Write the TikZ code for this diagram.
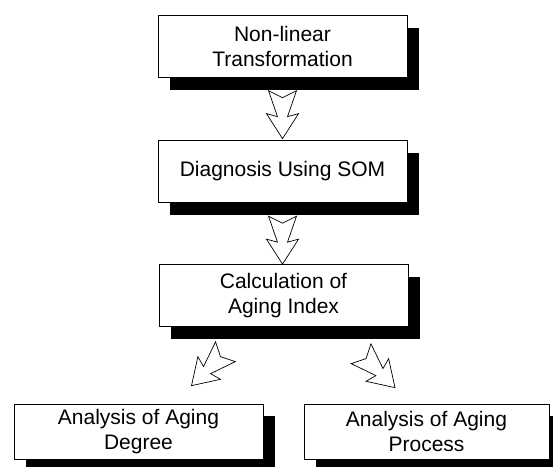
\documentclass[tikz,border=0pt]{standalone}
\usepackage{fontspec}
\setmainfont{Liberation Sans}
\usetikzlibrary{shadows,calc}
\begin{document}
\begin{tikzpicture}[x=1pt,y=-1pt,
  box/.style={draw=black, line width=0.7pt, fill=white, minimum width=249pt,
    minimum height=62pt, align=center, inner sep=0pt,
    font=\fontsize{21}{25}\selectfont,
    general shadow={fill=black, draw=none, shadow xshift=12pt, shadow yshift=-12pt}},
  lowbox/.style={box, minimum height=55pt},
  pics/zarrow/.style={code={
    \draw[line width=0.7pt, fill=white, line join=miter]
      (0,0) -- (-16,-25) -- (-5,-22) -- (-14,-48) -- (0,-41)
      -- (14,-48) -- (5,-22) -- (16,-25) -- cycle;}}
]
\useasboundingbox (0,0) rectangle (553,466);
\clip (0,0) rectangle (553,466);
\node[box] (b1) at (282.5,46.5) {Non-linear\\Transformation};
\node[box] (b2) at (282.5,171.5) {Diagnosis Using SOM};
\node[box] (b3) at (283.5,295.5) {Calculation of\\Aging Index};
\node[lowbox] (b4) at (138.5,431.5) {Analysis of Aging\\Degree};
\node[lowbox, minimum width=245pt] (b5) at (426.5,431.5) {Analysis of Aging\\Process};
\pic at ($(b2.north)+(0,-1.5)$) {zarrow};
\pic at ($(b3.north)+(-1,0)$) {zarrow};
\pic[rotate=-45] at ($(b4.north)+(53,-18)$) {zarrow};
\pic[rotate=45] at ($(b5.north)+(-31.5,-16)$) {zarrow};
\end{tikzpicture}
\end{document}
